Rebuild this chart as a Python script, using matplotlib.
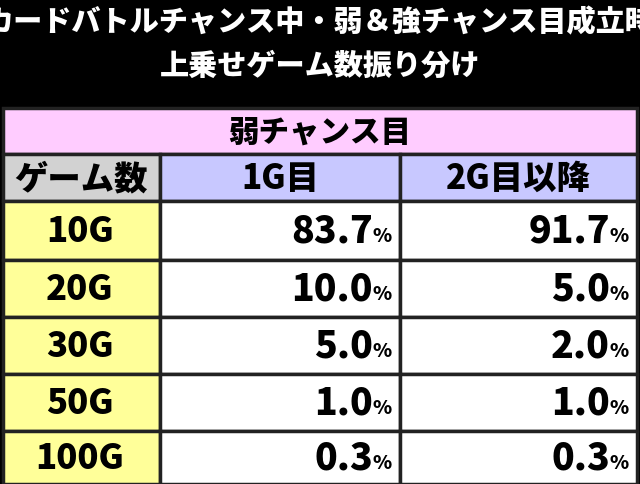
import matplotlib.pyplot as plt
from matplotlib.patches import Rectangle

plt.rcParams['font.family'] = ['Noto Sans CJK JP', 'DejaVu Sans']

title_lines = ["カードバトルチャンス中・弱＆強チャンス目成立時", "上乗せゲーム数振り分け"]
section = "弱チャンス目"
col_headers = ["ゲーム数", "1G目", "2G目以降"]
games = ["10G", "20G", "30G", "50G", "100G"]
first_g = ["83.7", "10.0", "5.0", "1.0", "0.3"]
later_g = ["91.7", "5.0", "2.0", "1.0", "0.3"]

fig = plt.figure(figsize=(6.4, 4.85), dpi=100, facecolor='black')
ax = fig.add_axes([0, 0, 1, 1])
ax.set_xlim(0, 640)
ax.set_ylim(485, 0)
ax.axis('off')

for i, line in enumerate(title_lines):
    ax.text(320, 23 + i * 43, line, color='white', fontsize=21, fontweight='heavy',
            ha='center', va='center')

col_x = [3, 160, 400, 637]
row_y = [109, 155, 202, 261, 318, 375, 432, 485]

def cell(x0, x1, y0, y1, color):
    ax.add_patch(Rectangle((x0, y0), x1 - x0, y1 - y0, facecolor=color,
                           edgecolor='#222222', linewidth=2.5))

cell(col_x[0], col_x[3], row_y[0], row_y[1], '#FFCCFF')
ax.text(320, (row_y[0] + row_y[1]) / 2, section, fontsize=22, fontweight='heavy',
        ha='center', va='center')

hdr_colors = ['#D2D2D2', '#C8C8FF', '#C8C8FF']
for j, h in enumerate(col_headers):
    cell(col_x[j], col_x[j + 1], row_y[1], row_y[2], hdr_colors[j])
    ax.text((col_x[j] + col_x[j + 1]) / 2, (row_y[1] + row_y[2]) / 2, h,
            fontsize=24, fontweight='heavy', ha='center', va='center')

for i, g in enumerate(games):
    y0, y1 = row_y[i + 2], row_y[i + 3]
    yc = (y0 + y1) / 2
    cell(col_x[0], col_x[1], y0, y1, '#FFFF99')
    ax.text(80, yc, g, fontsize=25, fontweight='heavy', ha='center', va='center')
    for j, v in enumerate([first_g[i], later_g[i]]):
        cell(col_x[j + 1], col_x[j + 2], y0, y1, 'white')
        xr = col_x[j + 2] - 8
        ax.text(xr, yc + 5, "%", fontsize=14, fontweight='heavy', ha='right', va='center')
        ax.text(xr - 19, yc, v, fontsize=27, fontweight='heavy', ha='right', va='center')

fig.savefig('out.png', dpi=100, facecolor='black')
